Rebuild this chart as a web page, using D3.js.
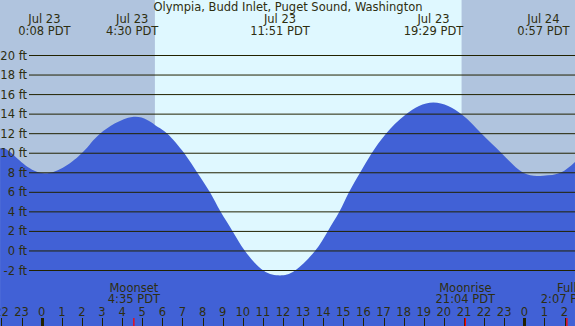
<!DOCTYPE html>
<html>
<head>
<meta charset="utf-8">
<script src="https://cdn.jsdelivr.net/npm/d3@7"></script>
<style>
  body { margin: 0; overflow: hidden; }
  svg { display: block; font-family: "DejaVu Sans", sans-serif; font-size: 11.5px; }
</style>
</head>
<body>
<svg width="575" height="326"></svg>
<script>
// hours after Jul 23 00:00 PDT, and tide height in ft
let tideHours = [-2.07, -1.49, 0.13, 1.99, 2.90, 4.50, 5.63, 6.25, 7.09, 7.74, 8.37, 8.90, 9.50, 10.11, 11.02,
  11.85, 12.60, 13.59, 14.22, 14.80, 15.28, 15.83, 16.41, 17.12, 18.12, 19.48, 20.88, 21.88, 22.87,
  23.95, 24.95, 25.80, 26.52];
let tideFeet = [10.5, 10.0, 7.95, 10.0, 12.0, 13.7, 12.9, 12.0, 10.0, 8.0, 6.0, 4.0, 2.0, 0.0, -2.0,
  -2.5, -2.0, 0.0, 2.0, 4.0, 6.0, 8.0, 10.0, 12.0, 14.0, 15.2, 14.0, 12.0, 10.0,
  8.0, 7.7, 8.0, 9.1];

let extremeHours = [0.133, 4.5, 11.85, 19.483, 24.95];
let extremeDays = ['Jul 23', 'Jul 23', 'Jul 23', 'Jul 23', 'Jul 24'];
let extremeClock = ['0:08 PDT', '4:30 PDT', '11:51 PDT', '19:29 PDT', '0:57 PDT'];

let moonHours = [4.583, 21.067, 26.117];
let moonNames = ['Moonset', 'Moonrise', 'Full'];
let moonClock = ['4:35 PDT', '21:04 PDT', '2:07 PDT'];

let sunrise = 5.63, sunset = 20.88;
let feetTicks = d3.range(-2, 21, 2);
let hourTicks = d3.range(-2, 27);

let width = 575, height = 326;
let ink = '#2e2e10';

let x = d3.scaleLinear().domain([0, 24]).range([41.7, 524.3]);
let y = d3.scaleLinear().domain([-2, 20]).range([270.5, 55.5]);

let svg = d3.select('svg');

// night / day background
svg.append('rect')
  .attr('width', width).attr('height', height)
  .attr('fill', '#b0c4de');
svg.append('rect')
  .attr('x', x(sunrise)).attr('y', 0)
  .attr('width', x(sunset) - x(sunrise)).attr('height', height)
  .attr('fill', '#dff8ff');

// water
let tide = tideHours.map((h, i) => ({ h: h, ft: tideFeet[i] }));
let area = d3.area()
  .x(d => x(d.h))
  .y0(height)
  .y1(d => y(d.ft))
  .curve(d3.curveNatural);
svg.append('path')
  .datum(tide)
  .attr('d', area)
  .attr('fill', '#4161d6');

// height lines and labels
svg.selectAll('line.grid')
  .data(feetTicks)
  .join('line')
    .attr('class', 'grid')
    .attr('x1', 29).attr('x2', width)
    .attr('y1', d => y(d)).attr('y2', d => y(d))
    .attr('stroke', '#222200')
    .attr('stroke-width', 1);

svg.selectAll('text.ft')
  .data(feetTicks)
  .join('text')
    .attr('class', 'ft')
    .attr('x', 27)
    .attr('y', d => y(d) + 4)
    .attr('text-anchor', 'end')
    .attr('fill', ink)
    .text(d => d + ' ft');

// title
svg.append('text')
  .attr('x', 288).attr('y', 11)
  .attr('text-anchor', 'middle')
  .attr('fill', ink)
  .text('Olympia, Budd Inlet, Puget Sound, Washington');

// high / low labels
let ext = svg.selectAll('g.ext')
  .data(extremeHours)
  .join('g')
    .attr('class', 'ext')
    .attr('transform', d => `translate(${x(d)},0)`);
ext.append('text')
  .attr('y', 23).attr('text-anchor', 'middle').attr('fill', ink)
  .text((d, i) => extremeDays[i]);
ext.append('text')
  .attr('y', 35).attr('text-anchor', 'middle').attr('fill', ink)
  .text((d, i) => extremeClock[i]);

// hour axis
svg.selectAll('line.hour')
  .data(hourTicks)
  .join('line')
    .attr('class', 'hour')
    .attr('x1', d => Math.round(x(d)) + 0.5)
    .attr('x2', d => Math.round(x(d)) + 0.5)
    .attr('y1', 318).attr('y2', height)
    .attr('stroke', '#222200')
    .attr('stroke-width', d => (d % 24 === 0 ? 3 : 1));

svg.selectAll('text.hour')
  .data(hourTicks)
  .join('text')
    .attr('class', 'hour')
    .attr('x', d => x(d))
    .attr('y', 316)
    .attr('text-anchor', 'middle')
    .attr('fill', ink)
    .text(d => ((d % 24) + 24) % 24);

// moon events
svg.selectAll('line.moon')
  .data(moonHours)
  .join('line')
    .attr('class', 'moon')
    .attr('x1', d => x(d)).attr('x2', d => x(d))
    .attr('y1', 318).attr('y2', height)
    .attr('stroke', 'red')
    .attr('stroke-width', 1.3);

let moon = svg.selectAll('g.moon')
  .data(moonHours)
  .join('g')
    .attr('class', 'moon')
    .attr('transform', d => `translate(${x(d)},0)`);
moon.append('text')
  .attr('y', 292).attr('text-anchor', 'middle').attr('fill', ink)
  .text((d, i) => moonNames[i]);
moon.append('text')
  .attr('y', 303).attr('text-anchor', 'middle').attr('fill', ink)
  .text((d, i) => moonClock[i]);
</script>
</body>
</html>
